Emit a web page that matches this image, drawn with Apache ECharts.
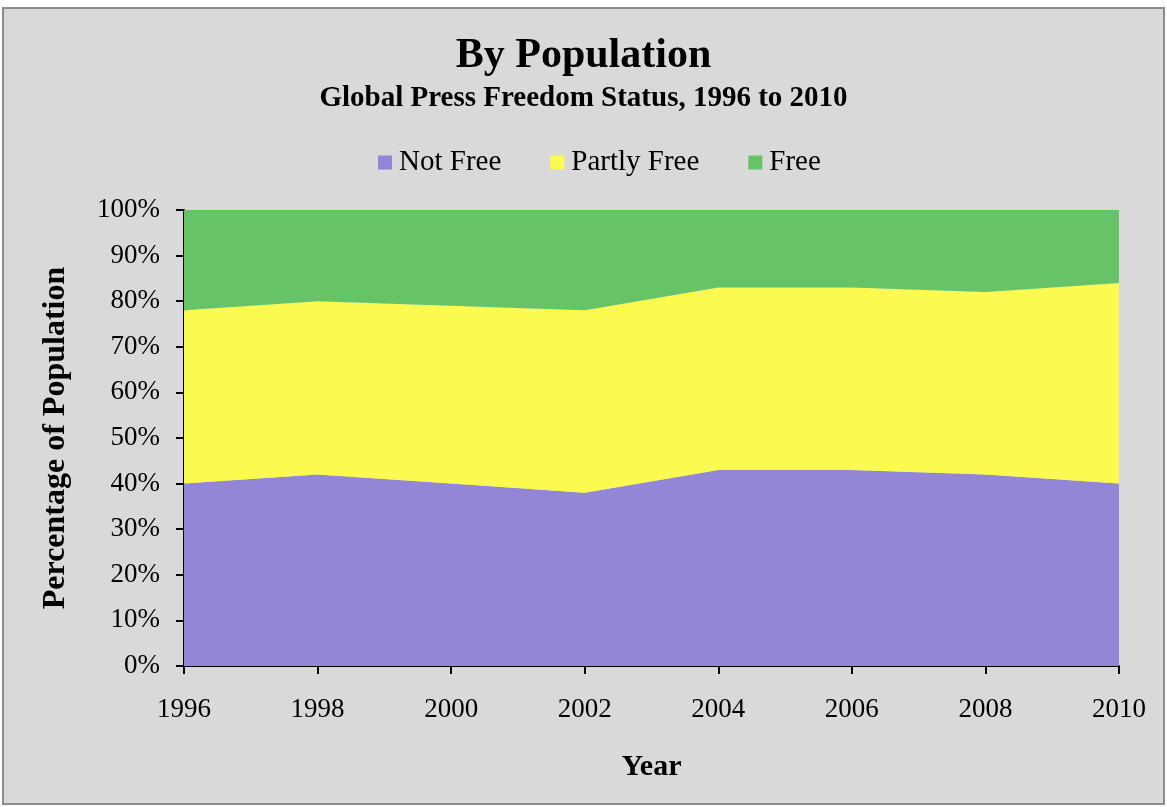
<!DOCTYPE html>
<html>
<head>
<meta charset="utf-8">
<script src="https://cdn.jsdelivr.net/npm/echarts@6/dist/echarts.min.js"></script>
<style>
  html, body { margin: 0; padding: 0; background: #ffffff; }
  #frame { position: absolute; left: 2px; top: 7px; width: 1163px; height: 798px;
           box-sizing: border-box; border: 2px solid #8c8c8c; background: #d9d9d9; }
  #chart { position: absolute; left: 0; top: 0; width: 1167px; height: 807px; }
</style>
</head>
<body>
<div id="frame"></div>
<div id="chart"></div>
<script>
// Share of world population by press freedom status (percent)
const years = ['1996', '1998', '2000', '2002', '2004', '2006', '2008', '2010'];
const notFree = [40, 42, 40, 38, 43, 43, 42, 40];
const partlyFree = [38, 38, 39, 40, 40, 40, 40, 44];
const free = [22, 20, 21, 22, 17, 17, 18, 16];
const seriesNames = ['Not Free', 'Partly Free', 'Free'];
const seriesColors = ['#9386d6', '#fafa50', '#66c466'];

const FONT = '"Liberation Serif", "DejaVu Serif", serif';

const chart = echarts.init(document.getElementById('chart'), null, { renderer: 'canvas' });

const seriesData = [notFree, partlyFree, free];

chart.setOption({
  backgroundColor: 'transparent',
  animation: false,
  textStyle: { fontFamily: FONT, color: '#000' },
  title: {
    text: 'By Population',
    subtext: 'Global Press Freedom Status, 1996 to 2010',
    left: 'center',
    top: 30,
    padding: [5, 0, 5, 15],
    itemGap: 7,
    textStyle: { fontFamily: FONT, fontSize: 42, fontWeight: 'bold', color: '#000' },
    subtextStyle: { fontFamily: FONT, fontSize: 29, fontWeight: 'bold', color: '#000' }
  },
  legend: {
    top: 143,
    left: 373,
    itemWidth: 14,
    itemHeight: 14,
    itemGap: 49,
    icon: 'rect',
    textStyle: { fontFamily: FONT, fontSize: 29, color: '#000', padding: [0, 0, 0, 2] },
    data: seriesNames
  },
  grid: { left: 184, right: 48, top: 210, bottom: 141, containLabel: false },
  xAxis: {
    type: 'category',
    boundaryGap: false,
    data: years,
    name: 'Year',
    nameLocation: 'middle',
    nameGap: 86,
    nameTextStyle: { fontFamily: FONT, fontSize: 30, fontWeight: 'bold', color: '#000' },
    axisLine: { show: true, lineStyle: { color: '#000', width: 2 } },
    axisTick: { show: true, inside: false, length: 8, lineStyle: { color: '#000', width: 2 } },
    axisLabel: { fontFamily: FONT, fontSize: 27, color: '#000', margin: 30, interval: 0 },
    splitLine: { show: false }
  },
  yAxis: {
    type: 'value',
    min: 0,
    max: 100,
    interval: 10,
    name: 'Percentage of Population',
    nameLocation: 'middle',
    nameRotate: 90,
    nameGap: 112,
    nameTextStyle: { fontFamily: FONT, fontSize: 32, fontWeight: 'bold', color: '#000' },
    axisLine: { show: true, lineStyle: { color: '#000', width: 2 } },
    axisTick: { show: true, inside: false, length: 8, lineStyle: { color: '#000', width: 2 } },
    axisLabel: { fontFamily: FONT, fontSize: 27, color: '#000', margin: 24, formatter: '{value}%' },
    splitLine: { show: false }
  },
  series: seriesNames.map((name, i) => ({
    name: name,
    type: 'line',
    stack: 'total',
    symbol: 'none',
    smooth: false,
    color: seriesColors[i],
    lineStyle: { width: 0 },
    areaStyle: { color: seriesColors[i], opacity: 1 },
    data: seriesData[i]
  }))
});
</script>
</body>
</html>
